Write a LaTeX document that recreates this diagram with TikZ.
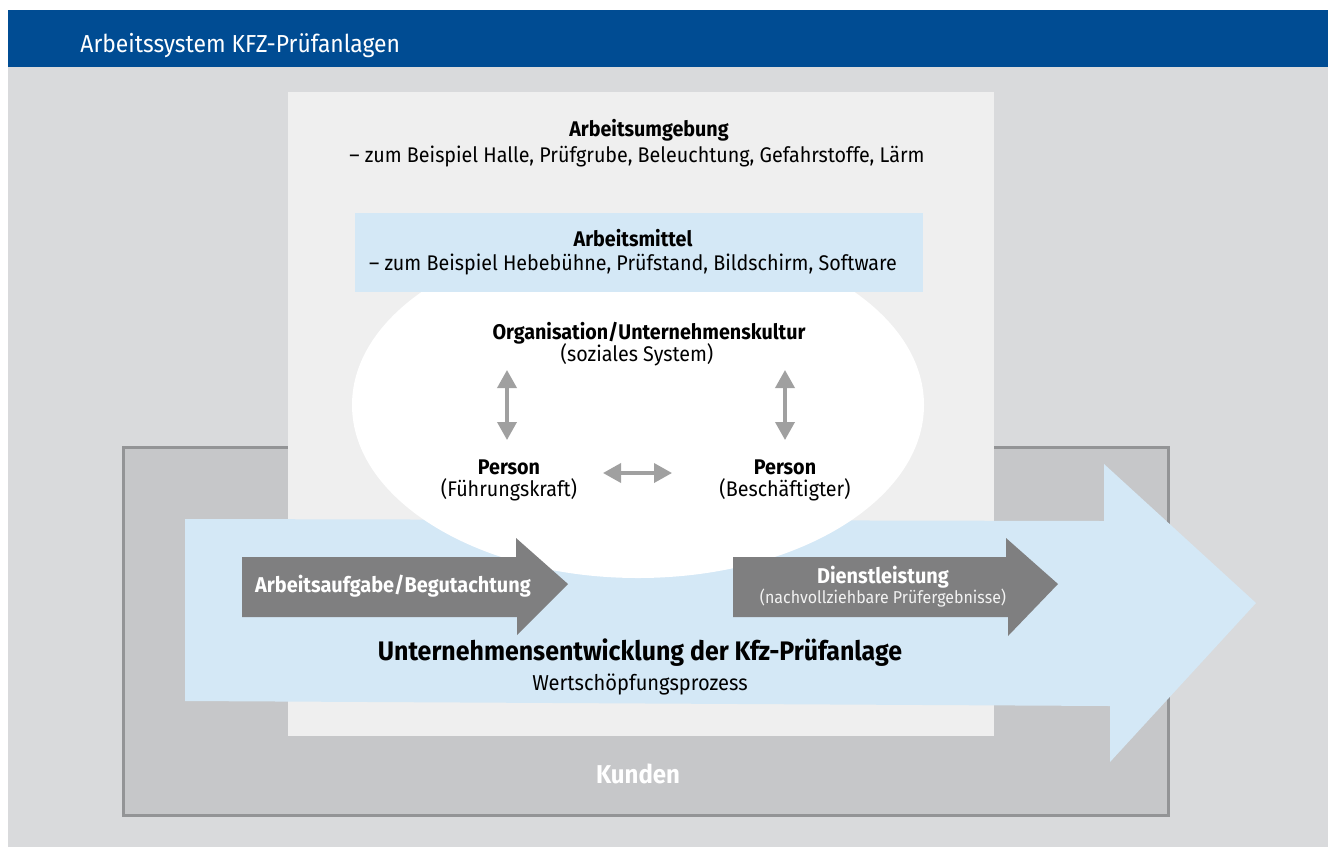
\documentclass[tikz,border=0pt]{standalone}
\usepackage{fontspec}
\setmainfont{Fira Sans}[FakeStretch=0.93]
\usepackage{tikz}
\usetikzlibrary{arrows.meta}

\definecolor{bandblue}{RGB}{0,76,147}
\definecolor{bggray}{RGB}{217,218,220}
\definecolor{kundenfill}{RGB}{198,199,201}
\definecolor{kundenline}{RGB}{147,148,150}
\definecolor{umgebung}{RGB}{239,239,239}
\definecolor{hellblau}{RGB}{212,232,246}
\definecolor{pfeilgrau}{RGB}{127,127,128}
\definecolor{wechselgrau}{RGB}{160,160,160}

\tikzset{
	fett/.style={anchor=base, font=\bfseries\fontsize{10.6}{12}\selectfont},
	zeile/.style={anchor=base, font=\fontsize{10.6}{12}\selectfont},
	wechsel/.style={draw=wechselgrau, line width=1.8pt,
		{Triangle[width=9.5pt,length=9pt]}-{Triangle[width=9.5pt,length=9pt]}},
}

\begin{document}
\begin{tikzpicture}[x=0.5pt, y=-0.5pt]
	\useasboundingbox (0,0) rectangle (1328,847);
	
	% background and header band
	\fill[bggray] (8,67) rectangle (1328,847);
	\fill[bandblue] (8,10) rectangle (1328,67);
	\node[anchor=base west, inner sep=0pt, text=white, font=\fontsize{12.3}{14}\selectfont] (kopf) at (80,52) {Arbeitssystem KFZ-Prüfanlagen};
	
	% Kunden
	\filldraw[fill=kundenfill, draw=kundenline, line width=1.5pt] (123.5,447.5) rectangle (1168.5,815.5);
	
	% Arbeitsumgebung
	\fill[umgebung] (288,92) rectangle (994,736);
	
	% Wertschoepfungsprozess
	\fill[hellblau] (185,519) -- (1104,521) -- (1104,464) -- (1256,603) -- (1110,762) -- (1110,706) -- (185,701) -- cycle;
	
	% soziales System
	\fill[white] (638,405) ellipse [x radius=286, y radius=173];
	
	% Arbeitsmittel
	\fill[hellblau] (355,213) rectangle (923,292);
	
	% Arbeitsaufgabe und Dienstleistung
	\fill[pfeilgrau] (242,557) -- (516,557) -- (516,538) -- (568,584) -- (517,635) -- (517,617) -- (242,617) -- cycle;
	\fill[pfeilgrau] (733,557) -- (1006,557) -- (1006,538) -- (1058,584) -- (1008,636) -- (1008,617) -- (733,617) -- cycle;
	
	\node[fett] (umgebung-titel) at (649,136) {Arbeitsumgebung};
	\node[zeile] (umgebung-text) at (637,162) {– zum Beispiel Halle, Prüfgrube, Beleuchtung, Gefahrstoffe, Lärm};
	
	\node[fett] (mittel-titel) at (633,246) {Arbeitsmittel};
	\node[zeile] (mittel-text) at (633,270) {– zum Beispiel Hebebühne, Prüfstand, Bildschirm, Software};
	
	\node[fett] (org) at (649,339) {Organisation/Unternehmenskultur};
	\node[zeile] (org-text) at (637,361) {(soziales System)};
	
	\node[fett] (person-fk) at (509,474) {Person};
	\node[zeile] (fk-text) at (509,496) {(Führungskraft)};
	\node[fett] (person-bs) at (785,474) {Person};
	\node[zeile] (bs-text) at (785,496) {(Beschäftigter)};
	
	\coordinate (fk-oben) at (507,370);
	\coordinate (fk-unten) at (507,440);
	\coordinate (bs-oben) at (785,370);
	\coordinate (bs-unten) at (785,440);
	\coordinate (mitte-links) at (603,473);
	\coordinate (mitte-rechts) at (672,473);
	\draw[wechsel] (fk-oben) -- (fk-unten);
	\draw[wechsel] (bs-oben) -- (bs-unten);
	\draw[wechsel] (mitte-links) -- (mitte-rechts);
	
	\node[anchor=base, text=white, font=\bfseries\fontsize{10.7}{12}\selectfont] (aufgabe) at (393,592) {Arbeitsaufgabe/Begutachtung};
	\node[anchor=base, text=white, font=\bfseries\fontsize{10.7}{12}\selectfont] (dienst) at (883,583) {Dienstleistung};
	\node[anchor=base, text=white!90!pfeilgrau, font=\fontsize{8.6}{10}\selectfont] (dienst-text) at (883,603) {(nachvollziehbare Prüfergebnisse)};
	
	\node[anchor=base, font=\bfseries\fontsize{13.4}{15}\selectfont] (entwicklung) at (640,660) {Unternehmensentwicklung der Kfz-Prüfanlage};
	\node[zeile, font=\fontsize{10.8}{12}\selectfont] (prozess) at (640,690) {Wertschöpfungsprozess};
	
	\node[anchor=base, text=white, font=\bfseries\fontsize{12.9}{15}\selectfont] (kunden) at (638,783) {Kunden};
\end{tikzpicture}
\end{document}
